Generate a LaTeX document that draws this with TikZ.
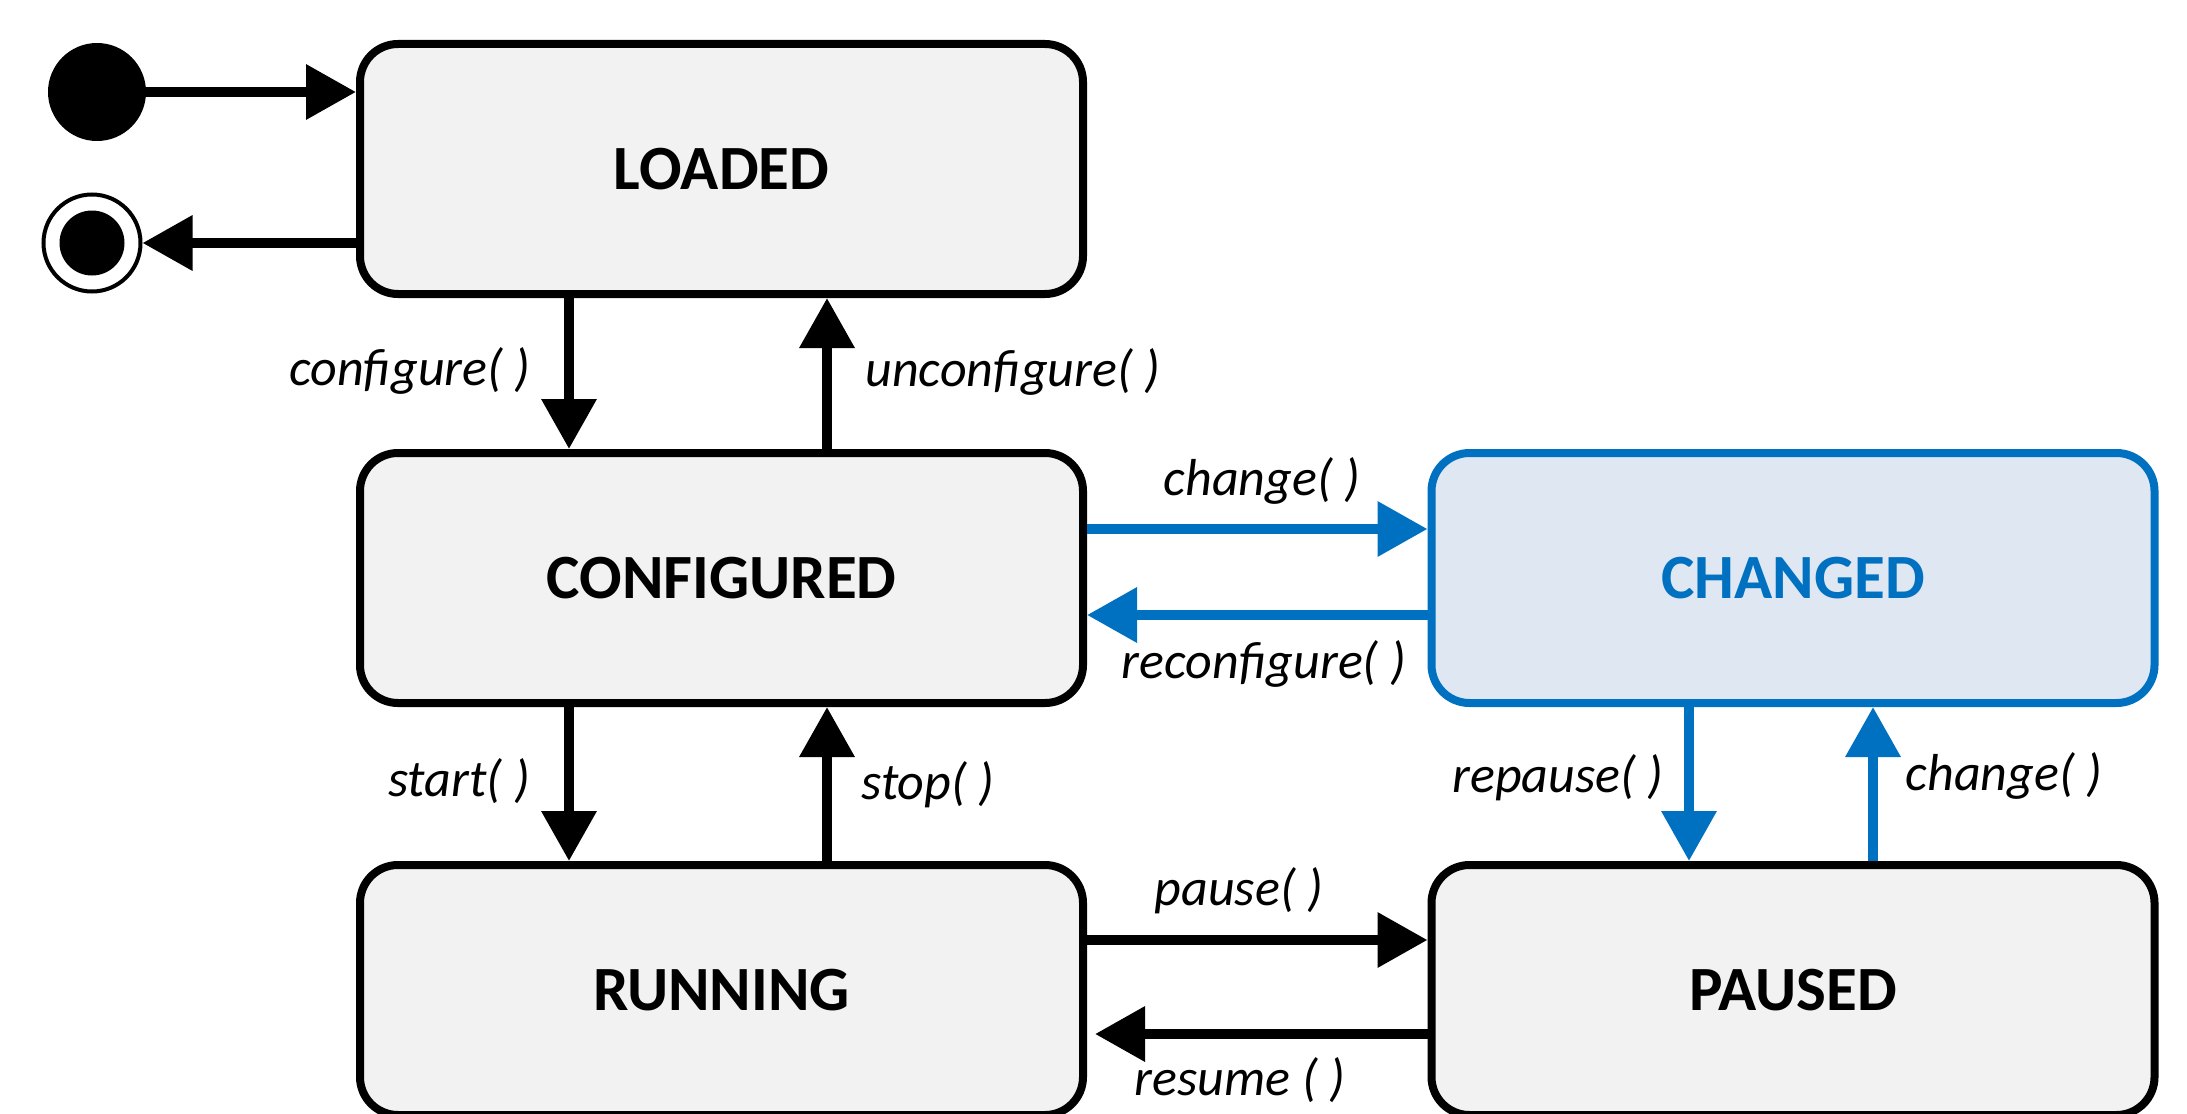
\documentclass[tikz,border=0pt]{standalone}
\usepackage{fontspec}
\setmainfont{Carlito}
\usetikzlibrary{arrows.meta}
\definecolor{boxgray}{HTML}{F2F2F2}
\definecolor{mblue}{HTML}{0070C0}
\definecolor{lblue}{HTML}{DEE7F2}
\begin{document}
\begin{tikzpicture}[x=0.5pt,y=-0.5pt,
  state/.style={draw=black, line width=4pt, fill=boxgray, rounded corners=19pt,
    minimum width=361.5pt, minimum height=125pt, inner sep=0pt,
    font=\fontsize{31.5}{36}\selectfont\bfseries},
  bluestate/.style={state, draw=mblue, fill=lblue, text=mblue},
  arr/.style={line width=5pt, -{Triangle[length=25pt,width=26.5pt]}},
  barr/.style={arr, draw=mblue, fill=mblue},
  lbl/.style={inner sep=0pt, font=\fontsize{26}{30}\selectfont\itshape}
]
\useasboundingbox (0,0) rectangle (2187,1113);

% states
\node[state] (loaded) at (721.5,169) {LOADED};
\node[state] (configured) at (721.5,578) {CONFIGURED};
\node[state] (running) at (721.5,990) {RUNNING};
\node[bluestate] (changed) at (1793,578) {CHANGED};
\node[state] (paused) at (1793,990) {PAUSED};

% initial and final
\node[circle, fill=black, minimum size=49pt, inner sep=0pt] (start) at (97,92) {};
\node[circle, draw=black, fill=white, line width=2pt, minimum size=48.5pt, inner sep=0pt] (final) at (92,243) {};
\node[circle, fill=black, minimum size=32.5pt, inner sep=0pt] (finalin) at (final.center) {};

% helper coordinates for connector positions
\coordinate (xa) at (569,0);
\coordinate (xb) at (827,0);
\coordinate (xc) at (1689,0);
\coordinate (xd) at (1873,0);
\coordinate (ya) at (0,529);
\coordinate (yb) at (0,615);
\coordinate (yc) at (0,940);
\coordinate (yd) at (0,1034);
\coordinate (ye) at (0,243);

% connectors
\draw[arr] (start.east) -- (loaded.west |- start.east);
\draw[arr] (loaded.west |- ye) -- (final.east);
\draw[arr] (loaded.south -| xa) -- (configured.north -| xa);
\draw[arr] (configured.north -| xb) -- (loaded.south -| xb);
\draw[arr] (configured.south -| xa) -- (running.north -| xa);
\draw[arr] (running.north -| xb) -- (configured.south -| xb);
\draw[barr] (configured.east |- ya) -- (changed.west |- ya);
\draw[barr] (changed.west |- yb) -- (configured.east |- yb);
\draw[barr] (changed.south -| xc) -- (paused.north -| xc);
\draw[barr] (paused.north -| xd) -- (changed.south -| xd);
\draw[arr] (running.east |- yc) -- (paused.west |- yc);
\draw[arr] (paused.west |- yd) -- ([xshift=4pt]running.east |- yd);

% labels
\node[lbl] (l1) at (410,371) {configure( )};
\node[lbl] (l2) at (1013,372) {unconfigure( )};
\node[lbl] (l3) at (1262,481) {change( )};
\node[lbl] (l4) at (1264,664) {reconfigure( )};
\node[lbl] (l5) at (459,781) {start( )};
\node[lbl] (l6) at (928,785) {stop( )};
\node[lbl] (l7) at (1558,778) {repause( )};
\node[lbl] (l8) at (2004,776) {change( )};
\node[lbl] (l9) at (1239,891) {pause( )};
\node[lbl] (l10) at (1240,1080) {resume ( )};
\end{tikzpicture}
\end{document}
